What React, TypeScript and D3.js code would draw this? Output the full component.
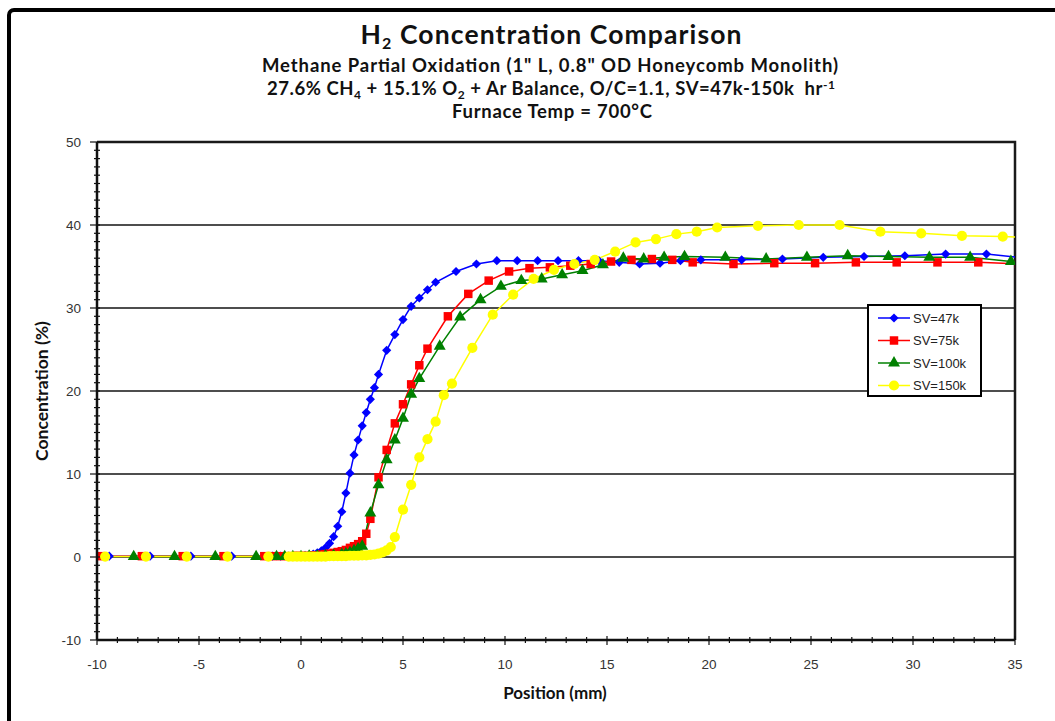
import React, { useEffect, useRef } from 'react'
import * as d3 from 'd3'

// SV=47k (blue diamonds)
const sv47kPos = [-9.4, -7.4, -5.4, -3.4, -1.4, -1.0, -0.6, -0.2, 0.2, 0.4, 0.6, 0.8, 1.0, 1.2, 1.4, 1.6, 1.8, 2.0, 2.2, 2.4, 2.6, 2.8, 3.0, 3.2, 3.4, 3.6, 3.8, 4.2, 4.6, 5.0, 5.4, 5.8, 6.2, 6.6, 7.6, 8.6, 9.6, 10.6, 11.6, 12.6, 13.6, 14.6, 15.6, 16.6, 17.6, 18.6, 19.6, 21.6, 23.6, 25.6, 27.6, 29.6, 31.6, 33.6, 35.6]
const sv47kConc = [0.1, 0.1, 0.1, 0.1, 0.1, 0.1, 0.1, 0.1, 0.2, 0.25, 0.35, 0.5, 0.75, 1.1, 1.65, 2.45, 3.7, 5.45, 7.7, 10.1, 12.3, 14.1, 15.8, 17.4, 19.0, 20.4, 22.0, 24.9, 26.8, 28.6, 30.2, 31.2, 32.2, 33.1, 34.4, 35.3, 35.7, 35.7, 35.7, 35.7, 35.7, 35.7, 35.5, 35.3, 35.4, 35.7, 35.8, 35.8, 35.9, 36.1, 36.2, 36.3, 36.5, 36.5, 36.0]

// SV=75k (red squares)
const sv75kPos = [-9.8, -7.8, -5.8, -3.8, -1.8, -1.4, -1.0, -0.6, -0.2, 0.2, 0.6, 1.0, 1.2, 1.4, 1.6, 1.8, 2.0, 2.2, 2.4, 2.6, 2.8, 3.0, 3.2, 3.4, 3.8, 4.2, 4.6, 5.0, 5.4, 5.8, 6.2, 7.2, 8.2, 9.2, 10.2, 11.2, 12.2, 13.2, 14.2, 15.2, 16.2, 17.2, 18.2, 19.2, 21.2, 23.2, 25.2, 27.2, 29.2, 31.2, 33.2, 35.2]
const sv75kConc = [0.1, 0.1, 0.1, 0.1, 0.1, 0.1, 0.1, 0.1, 0.15, 0.15, 0.2, 0.3, 0.35, 0.4, 0.5, 0.6, 0.7, 0.85, 1.1, 1.3, 1.55, 1.9, 2.8, 4.6, 9.6, 12.9, 16.1, 18.4, 20.8, 23.1, 25.1, 29.0, 31.7, 33.3, 34.4, 34.8, 34.9, 35.1, 35.3, 35.6, 35.8, 35.9, 35.8, 35.5, 35.3, 35.4, 35.4, 35.5, 35.5, 35.5, 35.5, 35.3]

// SV=100k (green triangles)
const sv100kPos = [-8.2, -6.2, -4.2, -2.2, -1.2, -0.8, -0.4, 0.0, 0.4, 0.8, 1.2, 1.6, 2.0, 2.2, 2.4, 2.6, 2.8, 3.0, 3.4, 3.8, 4.2, 4.6, 5.0, 5.4, 5.8, 6.8, 7.8, 8.8, 9.8, 10.8, 11.8, 12.8, 13.8, 14.8, 15.8, 16.8, 17.8, 18.8, 20.8, 22.8, 24.8, 26.8, 28.8, 30.8, 32.8, 34.8]
const sv100kConc = [0.05, 0.05, 0.05, 0.05, 0.05, 0.05, 0.05, 0.05, 0.1, 0.1, 0.15, 0.2, 0.3, 0.4, 0.55, 0.75, 1.0, 1.3, 5.3, 8.7, 11.7, 14.1, 16.7, 19.6, 21.5, 25.4, 28.9, 31.0, 32.6, 33.3, 33.5, 34.0, 34.5, 35.2, 36.0, 35.9, 36.1, 36.2, 36.1, 35.9, 36.1, 36.3, 36.2, 36.1, 36.1, 35.6]

// SV=150k (yellow circles)
const sv150kPos = [-9.6, -7.6, -5.6, -3.6, -1.6, -0.6, -0.4, -0.2, 0.0, 0.2, 0.4, 0.6, 0.8, 1.0, 1.2, 1.4, 1.6, 1.8, 2.0, 2.2, 2.4, 2.6, 2.8, 3.0, 3.2, 3.4, 3.6, 3.8, 4.0, 4.2, 4.4, 4.6, 5.0, 5.4, 5.8, 6.2, 6.6, 7.0, 7.4, 8.4, 9.4, 10.4, 11.4, 12.4, 13.4, 14.4, 15.4, 16.4, 17.4, 18.4, 19.4, 20.4, 22.4, 24.4, 26.4, 28.4, 30.4, 32.4, 34.4, 36.4]
const sv150kConc = [0.05, 0.05, 0.05, 0.05, 0.05, 0.05, 0.05, 0.05, 0.05, 0.05, 0.05, 0.05, 0.05, 0.05, 0.05, 0.1, 0.1, 0.1, 0.1, 0.1, 0.15, 0.15, 0.15, 0.2, 0.2, 0.25, 0.3, 0.4, 0.55, 0.8, 1.2, 2.4, 5.7, 8.7, 12.0, 14.2, 16.3, 19.5, 20.9, 25.2, 29.2, 31.6, 33.5, 34.6, 35.3, 35.8, 36.8, 37.9, 38.3, 38.9, 39.2, 39.7, 39.9, 40.0, 40.0, 39.2, 39.0, 38.7, 38.6, 38.4]

const seriesNames = ['SV=47k', 'SV=75k', 'SV=100k', 'SV=150k']
const seriesColors = ['#0000ff', '#ff0000', '#008000', '#ffff00']
const xTicks = [-10, -5, 0, 5, 10, 15, 20, 25, 30, 35]
const yTicks = [-10, 0, 10, 20, 30, 40, 50]

const W = 1055
const H = 721

const App = () => {
    const ref = useRef<SVGSVGElement | null>(null)

    useEffect(() => {
        const svg = d3.select(ref.current)
        svg.selectAll('*').remove()

        const left = 97, right = 1015, top = 142, bottom = 640
        const xScale = d3.scaleLinear().domain([-10, 35]).range([left, right])
        const yScale = d3.scaleLinear().domain([-10, 50]).range([bottom, top])

        // diamond = square turned 45deg, looks like the Excel marker
        const series = [
            { name: seriesNames[0], color: seriesColors[0], symbol: d3.symbolSquare, size: 42, rot: 45, pts: sv47kPos.map((x, i) => [x, sv47kConc[i]]) },
            { name: seriesNames[1], color: seriesColors[1], symbol: d3.symbolSquare, size: 72, rot: 0, pts: sv75kPos.map((x, i) => [x, sv75kConc[i]]) },
            { name: seriesNames[2], color: seriesColors[2], symbol: d3.symbolTriangle, size: 62, rot: 0, pts: sv100kPos.map((x, i) => [x, sv100kConc[i]]) },
            { name: seriesNames[3], color: seriesColors[3], symbol: d3.symbolCircle, size: 82, rot: 0, pts: sv150kPos.map((x, i) => [x, sv150kConc[i]]) },
        ]

        // outer frame
        svg.append('rect')
            .attr('x', 9).attr('y', 10)
            .attr('width', W + 20).attr('height', H + 20)
            .attr('rx', 5)
            .attr('fill', 'white')
            .attr('stroke', '#000')
            .attr('stroke-width', 4)

        // titles
        const titles = svg.append('g')
            .attr('font-family', 'Lato, "Open Sans", sans-serif')
            .attr('font-weight', 'bold')
            .attr('fill', '#111')
            .attr('text-anchor', 'middle')

        const t1 = titles.append('text').attr('x', 551).attr('y', 44).attr('font-size', 26.5)
            .attr('textLength', 381).attr('lengthAdjust', 'spacing')
        t1.append('tspan').text('H')
        t1.append('tspan').attr('font-size', 16).attr('dy', 5).text('2')
        t1.append('tspan').attr('dy', -5).text(' Concentration Comparison')

        titles.append('text').attr('x', 550).attr('y', 72).attr('font-size', 18.5)
            .attr('textLength', 576).attr('lengthAdjust', 'spacing')
            .text('Methane Partial Oxidation (1" L, 0.8" OD Honeycomb Monolith)')

        const t3 = titles.append('text').attr('x', 551).attr('y', 95).attr('font-size', 18.5)
            .attr('textLength', 568).attr('lengthAdjust', 'spacing')
        t3.append('tspan').text('27.6% CH')
        t3.append('tspan').attr('font-size', 12).attr('dy', 3.5).text('4')
        t3.append('tspan').attr('dy', -3.5).text(' + 15.1% O')
        t3.append('tspan').attr('font-size', 12).attr('dy', 3.5).text('2')
        t3.append('tspan').attr('dy', -3.5).text(' + Ar Balance, O/C=1.1, SV=47k-150k\u00a0 hr')
        t3.append('tspan').attr('font-size', 12).attr('dy', -6.5).text('-1')

        titles.append('text').attr('x', 552).attr('y', 118).attr('font-size', 18.5)
            .attr('textLength', 200).attr('lengthAdjust', 'spacing')
            .text('Furnace Temp = 700°C')

        // gridlines
        svg.append('g')
            .selectAll('line')
            .data(yTicks.filter(d => d > -10 && d < 50))
            .join('line')
            .attr('x1', left).attr('x2', right)
            .attr('y1', d => yScale(d)).attr('y2', d => yScale(d))
            .attr('stroke', '#4d4d4d')
            .attr('stroke-width', 2)

        // plot border top / right
        svg.append('path')
            .attr('d', `M${left},${top}H${right}V${bottom}`)
            .attr('fill', 'none')
            .attr('stroke', '#1a1a1a')
            .attr('stroke-width', 2.5)

        // data
        svg.append('clipPath').attr('id', 'plotclip')
            .append('rect')
            .attr('x', left).attr('y', top - 10)
            .attr('width', right - left).attr('height', bottom - top + 20)

        const dataG = svg.append('g').attr('clip-path', 'url(#plotclip)')
        const line = d3.line<number[]>().x(d => xScale(d[0])).y(d => yScale(d[1]))

        series.forEach(s => {
            dataG.append('path')
                .datum(s.pts)
                .attr('d', line)
                .attr('fill', 'none')
                .attr('stroke', s.color)
                .attr('stroke-width', 1.5)
        })
        series.forEach(s => {
            dataG.append('g')
                .selectAll('path')
                .data(s.pts)
                .join('path')
                .attr('transform', d => `translate(${xScale(d[0])},${yScale(d[1])}) rotate(${s.rot})`)
                .attr('d', d3.symbol().type(s.symbol).size(s.size)())
                .attr('fill', s.color)
        })

        // axes
        const axisG = svg.append('g').attr('stroke', '#111')
        axisG.append('line')
            .attr('x1', left).attr('x2', left).attr('y1', top).attr('y2', bottom)
            .attr('stroke-width', 2.5)
        axisG.append('line')
            .attr('x1', left).attr('x2', right).attr('y1', bottom).attr('y2', bottom)
            .attr('stroke-width', 2.5)

        const yMinor = d3.range(-10, 51, 1)
        axisG.selectAll('.yminor')
            .data(yMinor)
            .join('line')
            .attr('x1', d => yTicks.includes(d) ? left - 7 : left - 3)
            .attr('x2', left + 3)
            .attr('y1', d => yScale(d)).attr('y2', d => yScale(d))
            .attr('stroke-width', 1.2)

        const xMinor = d3.range(-10, 36, 1)
        axisG.selectAll('.xminor')
            .data(xMinor)
            .join('line')
            .attr('x1', d => xScale(d)).attr('x2', d => xScale(d))
            .attr('y1', d => xTicks.includes(d) ? bottom - 4 : bottom - 3)
            .attr('y2', d => xTicks.includes(d) ? bottom + 5 : bottom + 3)
            .attr('stroke-width', 1.2)

        const tickFont = '"Liberation Sans", Arial, sans-serif'
        svg.append('g')
            .selectAll('text')
            .data(yTicks)
            .join('text')
            .attr('x', 81)
            .attr('y', d => yScale(d))
            .attr('dy', '0.36em')
            .attr('text-anchor', 'end')
            .attr('font-family', tickFont)
            .attr('font-size', 13.5)
            .attr('fill', '#333')
            .text(d => d)

        svg.append('g')
            .selectAll('text')
            .data(xTicks)
            .join('text')
            .attr('x', d => xScale(d))
            .attr('y', 669)
            .attr('text-anchor', 'middle')
            .attr('font-family', tickFont)
            .attr('font-size', 13.5)
            .attr('fill', '#333')
            .text(d => d)

        // axis titles
        svg.append('text')
            .attr('x', 555).attr('y', 699)
            .attr('text-anchor', 'middle')
            .attr('font-family', 'Lato, "Open Sans", sans-serif')
            .attr('font-weight', 'bold')
            .attr('font-size', 17)
            .attr('fill', '#111')
            .text('Position (mm)')

        svg.append('text')
            .attr('transform', 'translate(48,391) rotate(-90)')
            .attr('text-anchor', 'middle')
            .attr('font-family', 'Lato, "Open Sans", sans-serif')
            .attr('font-weight', 'bold')
            .attr('font-size', 17.5)
            .attr('fill', '#111')
            .text('Concentration (%)')

        // legend
        const lg = svg.append('g').attr('transform', 'translate(868,305)')
        lg.append('rect')
            .attr('width', 113).attr('height', 91)
            .attr('fill', 'white')
            .attr('stroke', '#000')
            .attr('stroke-width', 2)
        series.forEach((s, i) => {
            const y = 13 + i * 22.5
            lg.append('line')
                .attr('x1', 10).attr('x2', 42).attr('y1', y).attr('y2', y)
                .attr('stroke', s.color).attr('stroke-width', 1.5)
            lg.append('path')
                .attr('transform', `translate(26,${y}) rotate(${s.rot})`)
                .attr('d', d3.symbol().type(s.symbol).size(s.size)())
                .attr('fill', s.color)
            lg.append('text')
                .attr('x', 45).attr('y', y)
                .attr('dy', '0.36em')
                .attr('font-family', tickFont)
                .attr('font-size', 13)
                .attr('fill', '#222')
                .text(s.name)
        })
    }, [])

    return (
        <svg ref={ref} width={W} height={H} viewBox={`0 0 ${W} ${H}`}
            style={{ position: 'absolute', left: 0, top: 0, background: 'white' }} />
    )
}

export default App
